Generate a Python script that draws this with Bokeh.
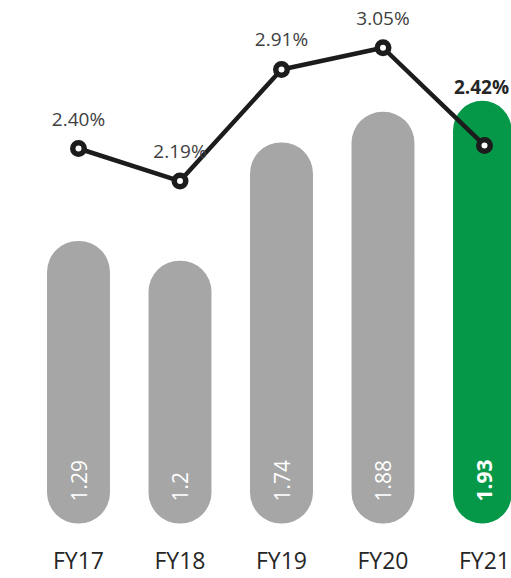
import math
from bokeh.plotting import figure
from bokeh.models import ColumnDataSource, Range1d, FixedTicker
from bokeh.core.properties import value
from bokeh.embed import file_html
from bokeh.resources import INLINE

# ---- data ----
categories = ["FY17", "FY18", "FY19", "FY20", "FY21"]
bar_values = [1.29, 1.2, 1.74, 1.88, 1.93]
bar_labels = ["1.29", "1.2", "1.74", "1.88", "1.93"]
pct_values = [2.40, 2.19, 2.91, 3.05, 2.42]
pct_labels = ["2.40%", "2.19%", "2.91%", "3.05%", "2.42%"]

# ---- styles ----
GRAY = "#a6a6a6"
GREEN = "#049848"
bar_colors = [GRAY, GRAY, GRAY, GRAY, GREEN]
FONT = "Open Sans"

W, H = 511, 578
AXIS_H = 47
frame_h = H - AXIS_H
px_x = 101.5
x_start = -78 / px_x
bar_px = 219.0
bar_zero_from_bottom = frame_h - 523
line_px = 155.0
line_zero_from_bottom = frame_h - 520

idx = list(range(len(categories)))

p = figure(width=W, height=H, output_backend="svg", toolbar_location=None,
           x_range=Range1d(x_start, x_start + W / px_x),
           y_range=Range1d(-bar_zero_from_bottom / bar_px,
                           -bar_zero_from_bottom / bar_px + frame_h / bar_px),
           min_border_left=0, min_border_right=0, min_border_top=0,
           min_border_bottom=0, y_axis_location=None)
p.extra_y_ranges = {"pct": Range1d(-line_zero_from_bottom / line_px,
                                   -line_zero_from_bottom / line_px + frame_h / line_px)}
p.outline_line_color = None
p.grid.visible = False
p.background_fill_color = "white"
p.border_fill_color = "white"

bars = ColumnDataSource(dict(x=idx, top=bar_values, label=bar_labels, color=bar_colors))
p.vbar(x="x", top="top", bottom=0, width=0.62, fill_color="color", line_color=None,
       border_radius=31, source=bars)

norm = ColumnDataSource(dict(x=idx[:-1], y=[0] * 4, label=bar_labels[:-1]))
last = ColumnDataSource(dict(x=idx[-1:], y=[0], label=bar_labels[-1:]))
p.text(x="x", y="y", text="label", source=norm, angle=math.pi / 2, text_align="left",
       text_baseline="middle", y_offset=-22, text_color="white",
       text_font=value(FONT), text_font_size="21px")
p.text(x="x", y="y", text="label", source=last, angle=math.pi / 2, text_align="left",
       text_baseline="middle", y_offset=-22, text_color="white",
       text_font=value(FONT), text_font_size="21px", text_font_style="bold")

line = ColumnDataSource(dict(x=idx, y=pct_values, label=pct_labels))
p.line(x="x", y="y", source=line, line_color="#1c1c1c", line_width=4.5, y_range_name="pct")
p.scatter(x="x", y="y", source=line, size=11.5, fill_color="white", line_color="#1c1c1c",
          line_width=5.5, y_range_name="pct")

lab_norm = ColumnDataSource(dict(x=idx[:-1], y=pct_values[:-1], label=pct_labels[:-1]))
lab_last = ColumnDataSource(dict(x=idx[-1:], y=pct_values[-1:], label=pct_labels[-1:]))
p.text(x="x", y="y", text="label", source=lab_norm, y_range_name="pct", text_align="center",
       text_baseline="alphabetic", y_offset=-30, text_color="#404040",
       text_font=value(FONT), text_font_size="19px")
p.text(x="x", y="y", text="label", source=lab_last, y_range_name="pct", text_align="center",
       text_baseline="alphabetic", y_offset=-58, x_offset=-3, text_color="#262626",
       text_font=value(FONT), text_font_size="19px", text_font_style="bold")

ax = p.xaxis[0]
ax.ticker = FixedTicker(ticks=idx)
ax.major_label_overrides = {i: c for i, c in zip(idx, categories)}
ax.axis_line_color = None
ax.major_tick_line_color = None
ax.minor_tick_line_color = None
ax.major_label_standoff = 6
ax.major_label_text_font = FONT
ax.major_label_text_font_size = "23px"
ax.major_label_text_color = "#262626"

open("out.html", "w").write(file_html(p, INLINE))
